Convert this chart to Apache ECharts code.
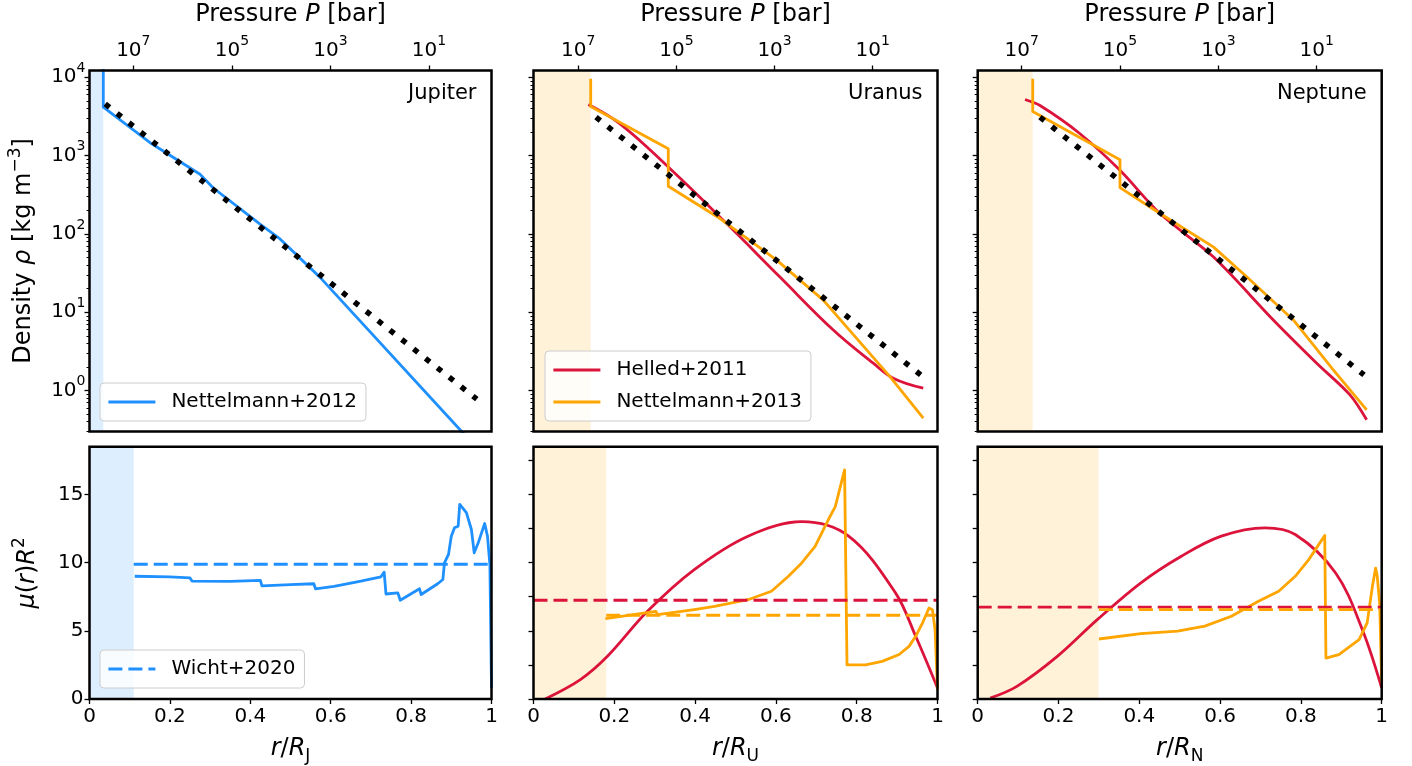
<!DOCTYPE html>
<html>
<head>
<meta charset="utf-8">
<script src="https://cdn.jsdelivr.net/npm/echarts@6/dist/echarts.min.js"></script>
<style>
html, body { margin: 0; padding: 0; background: #fff; }
#main { width: 1412px; height: 766px; }
</style>
</head>
<body>
<div id="main"></div>
<script>
// ---- data ----
// top row: [log10 P (bar), log10 rho (kg m^-3)]
var jupNettelmann2012 = [[7.609, 4.3], [7.609, 3.618], [6.627, 3.151], [5.647, 2.761], [5.377, 2.586],
  [4.429, 2.124], [4.023, 1.936], [3.211, 1.445], [0.37, -0.50], [0.2, -0.616]];
var jupPolytrope = [[7.57, 3.66], [0.03, -0.11]];

var uraHelled2011 = [[6.796, 3.652], [6.150, 3.406], [5.166, 2.854], [3.976, 2.132], [2.895, 1.452],
  [1.803, 0.773], [0.988, 0.349], [0.581, 0.158], [-0.031, 0.031]];
var uraNettelmann2013 = [[6.747, 3.98], [6.747, 3.627], [5.166, 3.088], [5.166, 2.608], [4.112, 2.196],
  [2.957, 1.665], [2.007, 1.155], [0.648, 0.178], [-0.031, -0.352]];
var uraPolytrope = [[6.639, 3.49], [0.022, 0.20]];

var nepHelled2011 = [[6.933, 3.716], [6.628, 3.639], [5.814, 3.279], [5.001, 2.812], [4.187, 2.260],
  [3.103, 1.707], [1.883, 0.901], [1.0, 0.349], [0.323, -0.055], [-0.016, -0.373]];
var nepNettelmann2013 = [[6.776, 3.98], [6.776, 3.563], [5.001, 2.948], [5.001, 2.591], [4.187, 2.260],
  [3.103, 1.834], [2.424, 1.452], [1.476, 0.901], [0.663, 0.264], [-0.016, -0.246]];
var nepPolytrope = [[6.628, 3.49], [0.038, 0.20]];

// bottom row: [r/R, mu(r) R^2]
var jupMu = [[0.1125, 9.0], [0.2, 8.95], [0.25, 8.88], [0.255, 8.65], [0.35, 8.62], [0.425, 8.7],
  [0.429, 8.3], [0.5, 8.38], [0.558, 8.45], [0.5625, 8.07], [0.608, 8.26], [0.65, 8.5], [0.675, 8.64],
  [0.725, 8.96], [0.733, 9.3], [0.7375, 7.7], [0.767, 7.78], [0.773, 7.24], [0.821, 8.08], [0.825, 7.66],
  [0.867, 8.47], [0.879, 8.76], [0.883, 9.98], [0.893, 10.6], [0.9, 11.94], [0.908, 12.55], [0.917, 12.67],
  [0.921, 14.27], [0.9375, 13.66], [0.95, 12.43], [0.957, 10.72], [0.967, 11.45], [0.983, 12.87],
  [0.99, 11.94], [0.996, 9.86], [1.0, 0.81]];
var jupWicht2020 = [[0.11, 9.88], [1.0, 9.88]];

var uraMuHelled = [[0.029, 0], [0.116, 1.42], [0.183, 3.13], [0.282, 6.43], [0.398, 9.49], [0.531, 11.94],
  [0.664, 13.0], [0.78, 11.94], [0.896, 7.78], [0.946, 4.6], [1.0, 0.81]];
var uraMuNettelmann = [[0.178, 5.9], [0.303, 6.43], [0.307, 6.18], [0.398, 6.56], [0.448, 6.8], [0.531, 7.28],
  [0.589, 7.9], [0.631, 9.0], [0.664, 9.98], [0.697, 11.2], [0.730, 13.16], [0.747, 14.1], [0.770, 16.8],
  [0.776, 2.5], [0.822, 2.5], [0.863, 2.76], [0.905, 3.26], [0.9295, 3.86], [0.946, 4.6], [0.963, 5.58],
  [0.979, 6.67], [0.9875, 6.55], [0.994, 5.08], [1.0, 0.68]];
var uraMeanHelled = [[0, 7.24], [1, 7.24]];
var uraMeanNettelmann = [[0.18, 6.14], [1, 6.14]];

var nepMuHelled = [[0.031, 0.07], [0.097, 0.93], [0.197, 3.13], [0.296, 5.82], [0.404, 8.52], [0.504, 10.47],
  [0.603, 11.94], [0.711, 12.55], [0.786, 12.06], [0.886, 9.24], [0.952, 5.1], [1.0, 0.81]];
var nepMuNettelmann = [[0.30, 4.4], [0.404, 4.8], [0.495, 4.97], [0.562, 5.34], [0.628, 6.07], [0.695, 7.17],
  [0.745, 7.9], [0.786, 9.0], [0.819, 10.2], [0.859, 11.99], [0.862, 3.0], [0.894, 3.25], [0.944, 4.35],
  [0.964, 5.58], [0.977, 8.27], [0.985, 9.6], [0.989, 9.0], [0.995, 7.0], [1.0, 1.2]];
var nepMeanHelled = [[0, 6.73], [1, 6.73]];
var nepMeanNettelmann = [[0.30, 6.55], [1, 6.55]];

var panelNames = ['Jupiter', 'Uranus', 'Neptune'];
var radiusSubs = ['J', 'U', 'N'];
var pressureTicks = [1e7, 1e5, 1e3, 1e1];
var densityTicks = [1, 10, 100, 1000, 10000];
var radiusTicks = [0, 0.2, 0.4, 0.6, 0.8, 1];
var muTicksJ = [0, 5, 10, 15];
var muTicksUN = [0, 2.5, 5, 7.5, 10, 12.5, 15, 17.5];
var logPRange = [[-0.268, 7.889], [-0.321, 7.913], [-0.322, 7.895]];
var rhoRange = [0.3, 12200];
var muRange = [0, 18.5];
var coreLogP = [7.609, 6.747, 6.776];
var coreRadius = [0.11, 0.18, 0.299];

// ---- styling ----
var FONT = 'DejaVu Sans';
var BLUE = '#1e90ff', RED = '#dc143c', ORANGE = '#ffa500';
var SHADE = ['rgba(30,144,255,0.15)', 'rgba(255,165,0,0.15)', 'rgba(255,165,0,0.15)'];
var colLeft = [89.5, 533.5, 977.7];
var colWidth = [402, 404, 404];

var densityMinor = [];
for (var e = -1; e <= 4; e++) {
  for (var k = 2; k <= 9; k++) {
    var v = k * Math.pow(10, e);
    if (v > rhoRange[0] && v < rhoRange[1]) densityMinor.push(v);
  }
}

function pow10(pts) {
  return pts.map(function (p) { return [Math.pow(10, p[0]), Math.pow(10, p[1])]; });
}
function logLabel(v) {
  return '{b|10}{s|' + Math.round(Math.log10(v)) + '}';
}
var tickRich = {
  b: { fontSize: 20, fontFamily: FONT, color: '#000', lineHeight: 32 },
  s: { fontSize: 14, fontFamily: FONT, color: '#000', lineHeight: 16, verticalAlign: 'top' }
};
var nameRich = {
  n: { fontSize: 24, fontFamily: FONT, color: '#000', lineHeight: 32 },
  i: { fontSize: 24, fontFamily: FONT, color: '#000', lineHeight: 32, fontStyle: 'italic' },
  s: { fontSize: 17, fontFamily: FONT, color: '#000', lineHeight: 18, verticalAlign: 'top' },
  d: { fontSize: 17, fontFamily: FONT, color: '#000', lineHeight: 18, verticalAlign: 'bottom' }
};
var tickStyle = { color: '#000', width: 1.3 };

var grids = [], xAxes = [], yAxes = [], series = [];

for (var i = 0; i < 3; i++) {
  grids.push({ left: colLeft[i], top: 70.5, width: colWidth[i], height: 361, show: true,
    borderColor: '#000', borderWidth: 2.5, backgroundColor: 'transparent', z: 10 });
}
for (var i = 0; i < 3; i++) {
  grids.push({ left: colLeft[i], top: 446.7, width: colWidth[i], height: 252.5, show: true,
    borderColor: '#000', borderWidth: 2.5, backgroundColor: 'transparent', z: 10 });
}

// pressure axes (top row, top side)
for (var i = 0; i < 3; i++) {
  xAxes.push({
    type: 'log', gridIndex: i, position: 'top', inverse: true,
    min: Math.pow(10, logPRange[i][0]), max: Math.pow(10, logPRange[i][1]),
    axisLine: { show: false }, splitLine: { show: false },
    axisTick: { length: 5, lineStyle: tickStyle, customValues: pressureTicks },
    axisLabel: { customValues: pressureTicks, formatter: logLabel, rich: tickRich, margin: 4 },
    name: '{n|Pressure }{i|P}{n| [bar]}', nameLocation: 'middle', nameGap: 40,
    nameTextStyle: { rich: nameRich }
  });
}
// radius axes (bottom row)
for (var i = 0; i < 3; i++) {
  xAxes.push({
    type: 'value', gridIndex: 3 + i, position: 'bottom', min: 0, max: 1,
    axisLine: { show: false }, splitLine: { show: false },
    axisTick: { length: 5, lineStyle: tickStyle, customValues: radiusTicks },
    axisLabel: { customValues: radiusTicks, fontSize: 20, fontFamily: FONT, color: '#000', margin: 8,
      formatter: function (v) { return String(Math.round(v * 10) / 10); } },
    name: '{i|r}{n|/}{i|R}{d|' + radiusSubs[i] + '}', nameLocation: 'middle', nameGap: 34,
    nameTextStyle: { rich: nameRich }
  });
}
// density axes (major), then minor-tick helpers
for (var i = 0; i < 3; i++) {
  yAxes.push({
    type: 'log', gridIndex: i, position: 'left', min: rhoRange[0], max: rhoRange[1],
    axisLine: { show: false }, splitLine: { show: false },
    axisTick: { length: 5, lineStyle: tickStyle, customValues: densityTicks },
    axisLabel: { show: i === 0, customValues: densityTicks, formatter: logLabel, rich: tickRich, margin: 4 },
    name: i === 0 ? '{n|Density }{i|ρ}{n| [kg m}{s|−3}{n|]}' : '', nameLocation: 'middle', nameGap: 50,
    nameTextStyle: { rich: nameRich }
  });
}
for (var i = 0; i < 3; i++) {
  yAxes.push({
    type: 'log', gridIndex: i, position: 'left', min: rhoRange[0], max: rhoRange[1],
    axisLine: { show: false }, splitLine: { show: false },
    axisTick: { length: 3, lineStyle: { color: '#000', width: 1 }, customValues: densityMinor },
    axisLabel: { show: false }
  });
}
// mu axes
for (var i = 0; i < 3; i++) {
  var mt = i === 0 ? muTicksJ : muTicksUN;
  yAxes.push({
    type: 'value', gridIndex: 3 + i, position: 'left', min: muRange[0], max: muRange[1],
    axisLine: { show: false }, splitLine: { show: false },
    axisTick: { length: 5, lineStyle: tickStyle, customValues: mt },
    axisLabel: { show: i === 0, customValues: mt, fontSize: 20, fontFamily: FONT, color: '#000', margin: 6 },
    name: i === 0 ? '{i|μ}{n|(}{i|r}{n|)}{i|R}{s|2}' : '', nameLocation: 'middle', nameGap: 46,
    nameTextStyle: { rich: nameRich }
  });
}

function line(name, xi, yi, data, color, type, width, z, smooth) {
  return {
    name: name, type: 'line', xAxisIndex: xi, yAxisIndex: yi, data: data,
    symbol: 'none', showSymbol: false, clip: true, silent: true, animation: false, z: z || 2,
    smooth: smooth || false,
    lineStyle: { color: color, width: width || 2.8, type: type || 'solid', cap: 'butt', join: 'round' },
    itemStyle: { color: color }, emphasis: { disabled: true }
  };
}
function shade(xi, yi, x0, x1, y0, y1, color) {
  return {
    type: 'line', xAxisIndex: xi, yAxisIndex: yi, data: [], silent: true, z: 1,
    markArea: { silent: true, itemStyle: { color: color },
      data: [[{ xAxis: x0, yAxis: y0 }, { xAxis: x1, yAxis: y1 }]] }
  };
}
var dotted = [5.5, 9.65];
var dashed = [14, 6];

// top row
for (var i = 0; i < 3; i++) {
  series.push(shade(i, i, Math.pow(10, logPRange[i][1]), Math.pow(10, coreLogP[i]), rhoRange[0], rhoRange[1], SHADE[i]));
}
series.push(line('Nettelmann+2012', 0, 0, pow10(jupNettelmann2012), BLUE));
series.push(line('polytrope', 0, 0, pow10(jupPolytrope), '#000', dotted, 5.5, 3));
series.push(line('Helled+2011', 1, 1, pow10(uraHelled2011), RED, null, null, null, 0.4));
series.push(line('Nettelmann+2013', 1, 1, pow10(uraNettelmann2013), ORANGE));
series.push(line('polytrope', 1, 1, pow10(uraPolytrope), '#000', dotted, 5.5, 3));
series.push(line('Helled+2011', 2, 2, pow10(nepHelled2011), RED, null, null, null, 0.3));
series.push(line('Nettelmann+2013', 2, 2, pow10(nepNettelmann2013), ORANGE));
series.push(line('polytrope', 2, 2, pow10(nepPolytrope), '#000', dotted, 5.5, 3));

// bottom row
for (var i = 0; i < 3; i++) {
  series.push(shade(3 + i, 6 + i, 0, coreRadius[i], muRange[0], muRange[1], SHADE[i]));
}
series.push(line('Jupiter mu', 3, 6, jupMu, BLUE));
series.push(line('Wicht+2020', 3, 6, jupWicht2020, BLUE, dashed));
series.push(line('Uranus mu H', 4, 7, uraMuHelled, RED, null, null, null, 0.35));
series.push(line('Uranus mu N', 4, 7, uraMuNettelmann, ORANGE));
series.push(line('Uranus mean H', 4, 7, uraMeanHelled, RED, dashed));
series.push(line('Uranus mean N', 4, 7, uraMeanNettelmann, ORANGE, dashed));
series.push(line('Neptune mu H', 5, 8, nepMuHelled, RED, null, null, null, 0.35));
series.push(line('Neptune mu N', 5, 8, nepMuNettelmann, ORANGE));
series.push(line('Neptune mean H', 5, 8, nepMeanHelled, RED, dashed));
series.push(line('Neptune mean N', 5, 8, nepMeanNettelmann, ORANGE, dashed));

function legend(left, top, names) {
  return {
    left: left, top: top, orient: 'vertical', data: names, selectedMode: false,
    itemWidth: 47, itemHeight: 14, itemGap: 10, padding: [8, 9, 8, 7],
    backgroundColor: 'rgba(255,255,255,0.8)', borderColor: '#cccccc', borderWidth: 1, borderRadius: 4,
    lineStyle: { width: 2.8 },
    itemStyle: { opacity: 0 },
    textStyle: { fontSize: 20, fontFamily: FONT, color: '#000', lineHeight: 22, padding: [0, 0, 0, 11] }
  };
}

var labels = [];
for (var i = 0; i < 3; i++) {
  labels.push({
    type: 'text', x: colLeft[i] + colWidth[i] - 15, y: 94, z: 20,
    style: { text: panelNames[i], fontSize: 21, fontFamily: FONT, fill: '#000', align: 'right', verticalAlign: 'middle' }
  });
}

var chart = echarts.init(document.getElementById('main'));
chart.setOption({
  animation: false,
  textStyle: { fontFamily: FONT },
  grid: grids,
  xAxis: xAxes,
  yAxis: yAxes,
  legend: [
    legend(100, 383, ['Nettelmann+2012']),
    legend(545, 351, ['Helled+2011', 'Nettelmann+2013']),
    legend(100, 650, ['Wicht+2020'])
  ],
  graphic: labels,
  series: series
});
window.onresize = function () { chart.resize(); };
</script>
</body>
</html>
